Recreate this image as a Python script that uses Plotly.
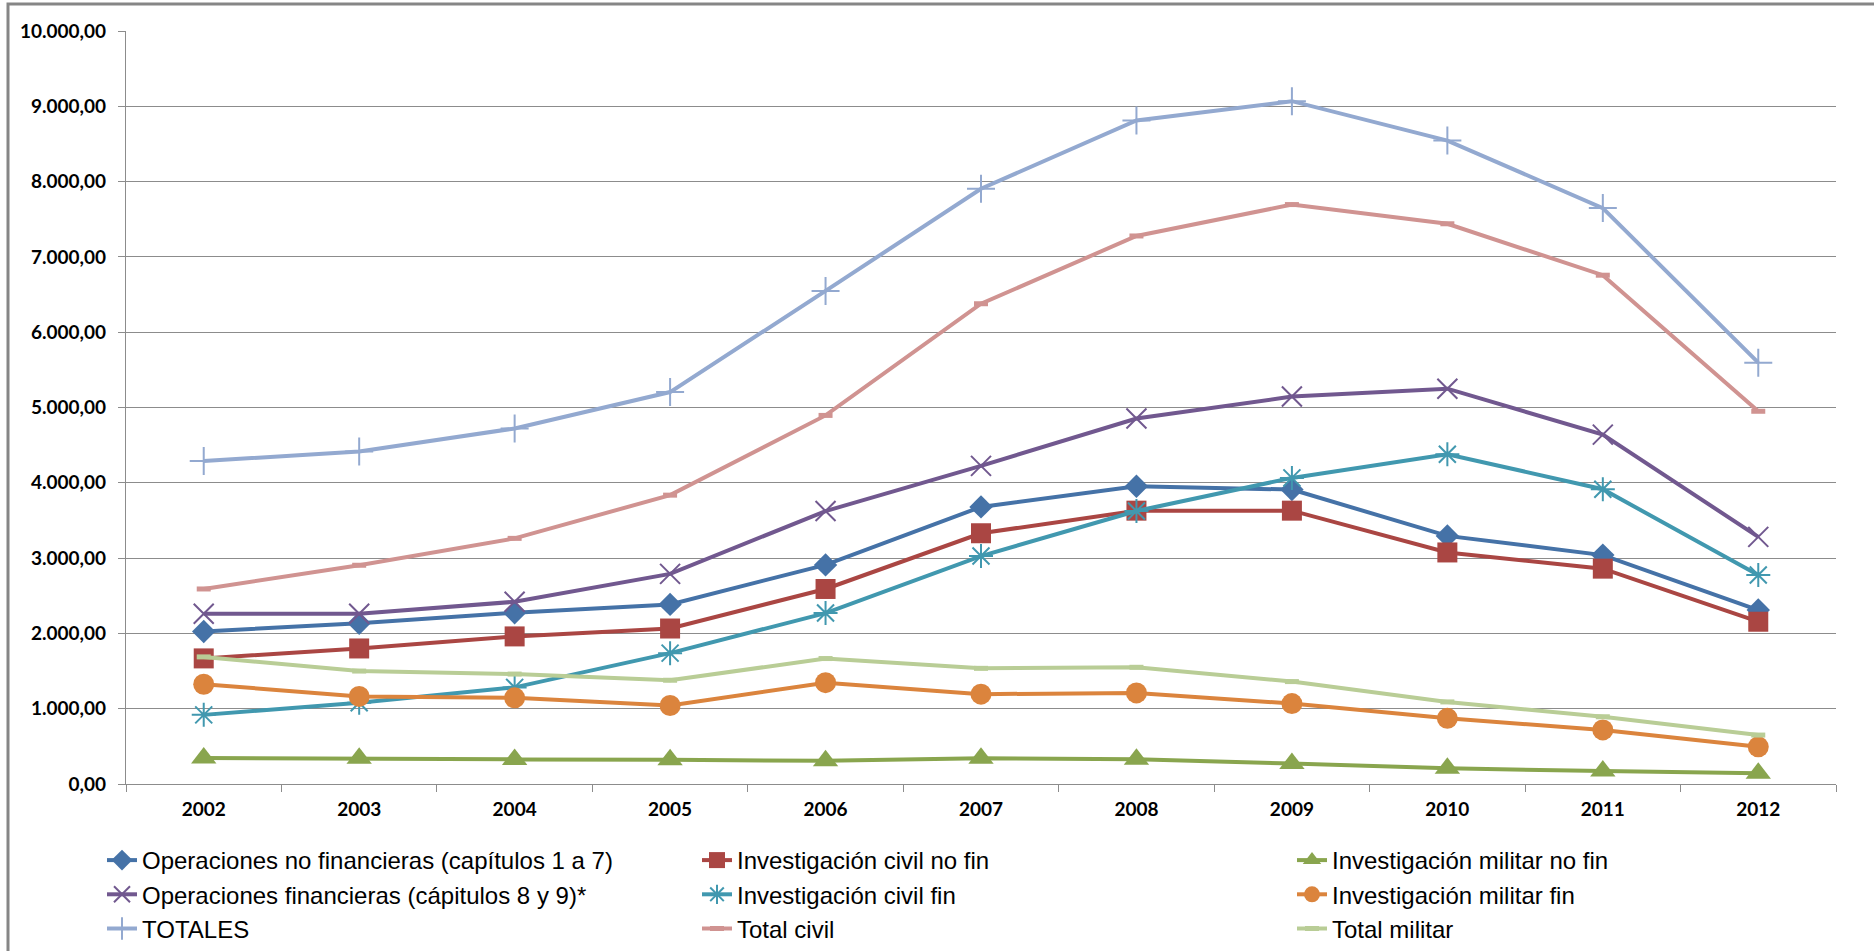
import plotly.graph_objects as go

# Years on the category axis
years = ["2002", "2003", "2004", "2005", "2006", "2007", "2008", "2009", "2010", "2011", "2012"]

# Series values (millones de euros)
op_no_fin = [2025, 2135, 2275, 2385, 2910, 3680, 3955, 3910, 3295, 3040, 2310]
inv_civil_no_fin = [1668, 1800, 1960, 2065, 2590, 3330, 3630, 3630, 3075, 2860, 2155]
inv_militar_no_fin = [345, 342, 327, 322, 308, 342, 328, 272, 208, 172, 142]
op_fin = [2260, 2260, 2420, 2790, 3625, 4225, 4853, 5145, 5250, 4640, 3282]
inv_civil_fin = [918, 1080, 1283, 1738, 2270, 3027, 3625, 4065, 4380, 3915, 2775]
inv_militar_fin = [1325, 1163, 1144, 1042, 1346, 1193, 1210, 1068, 872, 718, 494]
totales = [4290, 4415, 4722, 5205, 6548, 7905, 8812, 9068, 8545, 7648, 5595]
total_civil = [2590, 2905, 3262, 3836, 4895, 6378, 7278, 7695, 7440, 6757, 4950]
total_militar = [1688, 1500, 1460, 1378, 1666, 1536, 1550, 1360, 1090, 893, 650]

# (name, values, colour, symbol, size, open-symbol)
series = [
    ("Operaciones no financieras (capítulos 1 a 7)", op_no_fin, "#4572A7", "diamond", 18, False),
    ("Investigación civil no fin", inv_civil_no_fin, "#AA4643", "square", 20, False),
    ("Investigación militar no fin", inv_militar_no_fin, "#89A54E", "triangle-up", 22, False),
    ("Operaciones financieras (cápitulos 8 y 9)*", op_fin, "#71588F", "x-thin-open", 20, True),
    ("Investigación civil fin", inv_civil_fin, "#4198AF", "asterisk-open", 20, True),
    ("Investigación militar fin", inv_militar_fin, "#DB843D", "circle", 21, False),
    ("TOTALES", totales, "#93A9D0", "cross-thin-open", 20, True),
    ("Total civil", total_civil, "#D09391", "line-ew-open", 10, True),
    ("Total militar", total_militar, "#B9CD96", "line-ew-open", 10, True),
]

fig = go.Figure()
for name, vals, color, symbol, size, is_open in series:
    marker = dict(symbol=symbol, size=size, color=color)
    if is_open:
        marker["line"] = dict(color=color, width=2 if "line-ew" not in symbol else 5)
    else:
        marker["line"] = dict(width=0)
    fig.add_trace(go.Scatter(
        x=years, y=vals, name=name, mode="lines+markers",
        line=dict(color=color, width=4),
        marker=marker,
    ))

W, H = 1874, 951
L, R, T, B = 126, 38, 31, 167
pw, ph = W - L - R, H - T - B

grid = "#8C8C8C"
tick_font = dict(family="Lato, 'Liberation Sans', sans-serif", size=19, color="#000000", weight="bold")

fig.update_layout(
    width=W, height=H,
    margin=dict(l=L, r=R, t=T, b=B, pad=0, autoexpand=False),
    paper_bgcolor="white", plot_bgcolor="white",
    separators=",.",
    showlegend=True,
    legend=dict(
        orientation="h",
        x=(102 - L) / pw, xanchor="left",
        y=-(838 - (H - B)) / ph, yanchor="top",
        entrywidth=550, entrywidthmode="pixels",
        font=dict(family="'Liberation Sans', Arial, sans-serif", size=24, color="#000000"),
        traceorder="normal",
        bgcolor="rgba(0,0,0,0)",
    ),
    xaxis=dict(
        type="category",
        range=[-0.5, len(years) - 0.5],
        tickson="boundaries",
        ticks="outside", ticklen=7, tickwidth=1.3, tickcolor=grid,
        showline=True, linecolor=grid, linewidth=1.3,
        showgrid=False, zeroline=False,
        tickfont=tick_font,
        ticklabelstandoff=8,
    ),
    yaxis=dict(
        range=[0, 10000], dtick=1000, tick0=0,
        tickformat=",.2f",
        ticks="outside", ticklen=7, tickwidth=1.3, tickcolor=grid,
        showline=True, linecolor=grid, linewidth=1.3,
        showgrid=True, gridcolor=grid, gridwidth=1.3,
        zeroline=False,
        tickfont=tick_font,
        ticklabelstandoff=8,
    ),
    shapes=[dict(
        type="rect", xref="paper", yref="paper",
        x0=(8 - L) / pw, x1=(W + 10 - L) / pw,
        y0=-(H + 10 - (H - B)) / ph, y1=((H - B) - 4) / ph,
        line=dict(color="#868686", width=3),
        fillcolor="rgba(0,0,0,0)", layer="below",
    )],
)

fig.write_html("out.html")
